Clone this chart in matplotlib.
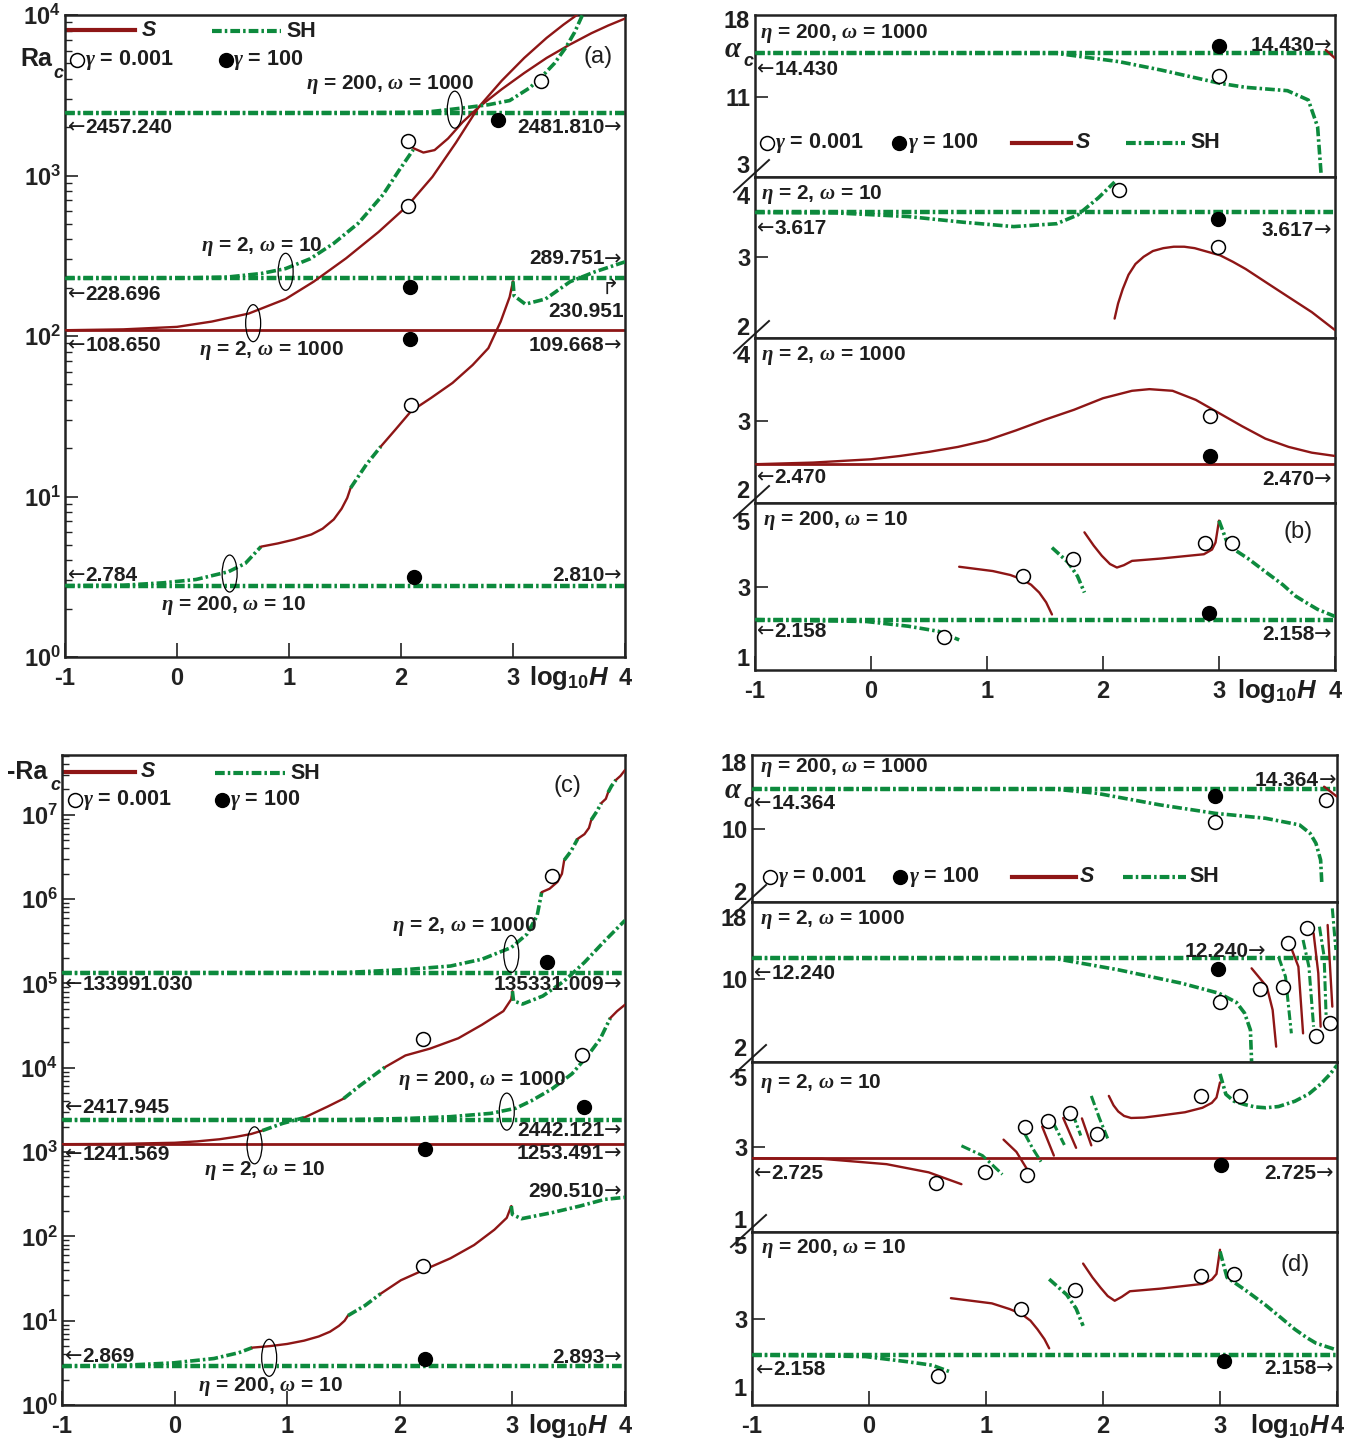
import matplotlib
matplotlib.use('Agg')
import matplotlib.pyplot as plt
import matplotlib.transforms as mtransforms
from matplotlib.patches import Ellipse
from matplotlib.lines import Line2D
from matplotlib.ticker import LogLocator, NullFormatter

# ------------------------------------------------------------------ DATA
X_TICKS = [-1, 0, 1, 2, 3, 4]
X_TICK_LABELS = ['-1', '0', '1', '2', '3', '4']

# ---- panel (a): Ra_c (log) ------------------------------------------
a_SH_flat = [2457.240, 228.696, 2.784]
a_S_flat = [108.650]
# eta=2, omega=1000 (S)
a_e2w1000_S_x = [-1, -0.48, 0, 0.31, 0.64, 0.97, 1.22, 1.51, 1.8, 2.06, 2.28, 2.49, 2.69, 2.9, 3.1, 3.3, 3.45, 3.57]
a_e2w1000_S_y = [108.65, 110, 114, 123, 138, 170, 218, 305, 445, 650, 980, 1600, 2650, 3900, 5400, 7200, 8700, 10000]
# eta=2, omega=10 (SH then S)
a_e2w10_SH_x = [-1, 0, 0.45, 0.75, 0.97, 1.19, 1.4, 1.62, 1.84, 1.98, 2.11]
a_e2w10_SH_y = [228.7, 229.5, 233, 245, 263, 303, 378, 505, 760, 1070, 1450]
a_e2w10_S_x = [2.11, 2.2, 2.3, 2.42, 2.55, 2.69, 2.9, 3.1, 3.3, 3.5, 3.7, 3.85, 4.0]
a_e2w10_S_y = [1480, 1390, 1440, 1700, 2150, 2650, 3450, 4350, 5400, 6500, 7700, 8600, 9500]
# eta=200, omega=1000 (SH)
a_e200w1000_SH_x = [-1, 1.5, 2.0, 2.24, 2.42, 2.6, 2.78, 2.97, 3.15, 3.26, 3.37, 3.47, 3.55, 3.62]
a_e200w1000_SH_y = [2457, 2460, 2470, 2490, 2570, 2660, 2760, 2930, 3520, 4150, 5000, 6250, 7800, 10000]
# eta=200, omega=10 (alternating SH / S)
a_e200w10_SH1_x = [-1, -0.48, -0.12, 0.17, 0.46, 0.61, 0.75]
a_e200w10_SH1_y = [2.784, 2.8, 2.9, 3.04, 3.4, 3.83, 4.87]
a_e200w10_S1_x = [0.75, 0.9, 1.05, 1.2, 1.3, 1.4, 1.47, 1.52, 1.55]
a_e200w10_S1_y = [4.87, 5.1, 5.4, 5.8, 6.3, 7.2, 8.4, 9.8, 11.3]
a_e200w10_SH2_x = [1.55, 1.69, 1.82]
a_e200w10_SH2_y = [11.3, 15.8, 20.5]
a_e200w10_S2_x = [1.82, 1.95, 2.09, 2.27, 2.46, 2.64, 2.78, 2.89, 2.97, 3.0]
a_e200w10_S2_y = [20.5, 26.1, 34, 41.2, 51, 66, 84, 123, 175, 219]
a_e200w10_SH3_x = [3.0, 3.01, 3.11, 3.29, 3.51, 3.73, 4.0]
a_e200w10_SH3_y = [219, 178, 158, 170, 218, 251, 289.751]
a_open_x = [2.06, 2.06, 3.25, 2.09]
a_open_y = [1630, 650, 3900, 37.4]
a_fill_x = [2.87, 2.08, 2.08, 2.12]
a_fill_y = [2220, 203, 96, 3.15]

# ---- panel (c): -Ra_c (log) -----------------------------------------
c_SH_flat = [133991.030, 2417.945, 2.869]
c_S_flat = [1241.569]
c_e2w1000_SH1_x = [-1, 1.5, 2.08, 2.45, 2.73, 2.99, 3.13, 3.22, 3.26]
c_e2w1000_SH1_y = [1.34e5, 1.345e5, 1.47e5, 1.61e5, 1.94e5, 2.67e5, 3.85e5, 6.4e5, 1.21e6]
c_e2w1000_S1_x = [3.26, 3.33, 3.40, 3.44, 3.46]
c_e2w1000_S1_y = [1.21e6, 1.33e6, 1.6e6, 2.0e6, 2.9e6]
c_e2w1000_SH2_x = [3.46, 3.52, 3.58]
c_e2w1000_SH2_y = [2.9e6, 3.7e6, 5.2e6]
c_e2w1000_S2_x = [3.58, 3.64, 3.68, 3.70]
c_e2w1000_S2_y = [5.2e6, 5.9e6, 7.0e6, 8.7e6]
c_e2w1000_SH3_x = [3.70, 3.75, 3.79]
c_e2w1000_SH3_y = [8.7e6, 1.1e7, 1.38e7]
c_e2w1000_S3_x = [3.79, 3.83, 3.85]
c_e2w1000_S3_y = [1.38e7, 1.55e7, 1.85e7]
c_e2w1000_SH4_x = [3.85, 3.88, 3.92]
c_e2w1000_SH4_y = [1.85e7, 2.2e7, 2.6e7]
c_e2w1000_S4_x = [3.92, 3.96, 4.0]
c_e2w1000_S4_y = [2.6e7, 2.9e7, 3.4e7]
c_e2w10_S1_x = [-1, -0.5, 0, 0.2, 0.4, 0.55, 0.68, 0.78]
c_e2w10_S1_y = [1241.6, 1250, 1290, 1340, 1420, 1520, 1640, 1800]
c_e2w10_SH1_x = [0.78, 0.96, 1.15]
c_e2w10_SH1_y = [1800, 2190, 2560]
c_e2w10_S2_x = [1.15, 1.36, 1.5]
c_e2w10_S2_y = [2560, 3470, 4300]
c_e2w10_SH2_x = [1.5, 1.65, 1.87]
c_e2w10_SH2_y = [4300, 6200, 10200]
c_e2w10_S3_x = [1.87, 2.05, 2.27, 2.52, 2.73, 2.92, 2.99, 3.0]
c_e2w10_S3_y = [10200, 14000, 16900, 22400, 32400, 47000, 65000, 81000]
c_e2w10_SH3_x = [3.0, 3.01, 3.09, 3.27, 3.46, 3.64, 3.82, 4.0]
c_e2w10_SH3_y = [81000, 62000, 57000, 71000, 107000, 178000, 320000, 560000]
c_e200w1000_SH_x = [-1, 1.5, 2.08, 2.45, 2.81, 3.03, 3.17, 3.35, 3.53, 3.67, 3.78, 3.87]
c_e200w1000_SH_y = [2418, 2420, 2510, 2630, 2880, 3310, 4070, 5600, 8500, 14000, 22000, 39000]
c_e200w1000_S_x = [3.87, 3.93, 4.0]
c_e200w1000_S_y = [39000, 47000, 56000]
c_e200w10_SH1_x = [-1, -0.45, -0.01, 0.35, 0.57, 0.69]
c_e200w10_SH1_y = [2.869, 2.96, 3.16, 3.56, 4.17, 4.79]
c_e200w10_S1_x = [0.69, 0.85, 1.0, 1.15, 1.28, 1.38, 1.46, 1.51, 1.54]
c_e200w10_S1_y = [4.79, 5.0, 5.3, 5.8, 6.5, 7.4, 8.7, 10.0, 11.5]
c_e200w10_SH2_x = [1.54, 1.69, 1.83]
c_e200w10_SH2_y = [11.5, 15.1, 20.9]
c_e200w10_S2_x = [1.83, 2.01, 2.21, 2.45, 2.66, 2.84, 2.95, 2.99]
c_e200w10_S2_y = [20.9, 30.2, 39.8, 55, 79, 120, 166, 229]
c_e200w10_SH3_x = [2.99, 3.0, 3.08, 3.35, 3.6, 3.82, 4.0]
c_e200w10_SH3_y = [229, 182, 162, 191, 229, 275, 290.510]
c_open_x = [3.35, 2.21, 3.62, 2.21]
c_open_y = [1.9e6, 2.2e4, 1.4e4, 45]
c_fill_x = [3.31, 3.64, 2.22, 2.22]
c_fill_y = [1.8e5, 3400, 1100, 3.5]

# ---- panel (b): alpha_c, four sub-panels ------------------------------
b1_SH_flat = 14.430
b1_SH_x = [-1, 1.6, 2.14, 2.5, 3.01, 3.23, 3.59, 3.77, 3.85, 3.88]
b1_SH_y = [14.43, 14.40, 13.75, 13.10, 12.06, 11.75, 11.49, 10.76, 8.68, 5.0]
b1_S_x = [3.92, 4.0]
b1_S_y = [14.66, 14.02]
b1_open_x, b1_open_y = [3.0], [12.64]
b1_fill_x, b1_fill_y = [3.0], [14.95]

b2_SH_flat = 3.617
b2_SH_x = [-1, -0.3, 0.32, 0.8, 1.23, 1.6, 1.78, 1.96, 2.1]
b2_SH_y = [3.617, 3.61, 3.56, 3.48, 3.42, 3.46, 3.58, 3.82, 4.04]
b2_S_x = [2.1, 2.13, 2.17, 2.22, 2.28, 2.35, 2.43, 2.52, 2.61, 2.7, 2.79, 2.9, 3.01, 3.12, 3.23, 3.4, 3.59, 3.8, 4.0]
b2_S_y = [2.14, 2.35, 2.55, 2.75, 2.90, 3.0, 3.08, 3.12, 3.14, 3.14, 3.12, 3.07, 3.02, 2.93, 2.83, 2.65, 2.45, 2.23, 1.98]
b2_open_x, b2_open_y = [2.14, 2.99], [3.93, 3.13]
b2_fill_x, b2_fill_y = [2.99], [3.53]

b3_S_flat = 2.470
b3_S_x = [-1, -0.5, 0, 0.25, 0.5, 0.75, 1.0, 1.25, 1.5, 1.75, 2.0, 2.25, 2.4, 2.6, 2.8, 3.0, 3.2, 3.4, 3.6, 3.8, 4.0]
b3_S_y = [2.47, 2.49, 2.53, 2.57, 2.62, 2.68, 2.76, 2.88, 3.01, 3.13, 3.27, 3.36, 3.38, 3.36, 3.25, 3.09, 2.93, 2.78, 2.68, 2.61, 2.57]
b3_open_x, b3_open_y = [2.92], [3.06]
b3_fill_x, b3_fill_y = [2.92], [2.57]

b4_SH_flat = 2.158
b4_SH1_x = [-1, -0.04, 0.32, 0.58, 0.76]
b4_SH1_y = [2.158, 2.11, 1.99, 1.86, 1.64]
b4_S1_x = [0.76, 1.05, 1.20, 1.30, 1.38, 1.45, 1.51, 1.56]
b4_S1_y = [3.51, 3.40, 3.30, 3.19, 3.05, 2.85, 2.60, 2.29]
b4_SH2_x = [1.56, 1.70, 1.78, 1.84]
b4_SH2_y = [4.0, 3.62, 3.27, 2.85]
b4_S2_x = [1.84, 1.92, 1.99, 2.06, 2.12, 2.18, 2.25, 2.5, 2.87, 2.94, 2.97, 3.0]
b4_S2_y = [4.39, 4.05, 3.79, 3.58, 3.49, 3.55, 3.66, 3.72, 3.83, 3.95, 4.13, 4.69]
b4_SH3_x = [3.0, 3.08, 3.25, 3.41, 3.55, 3.66, 3.77, 3.85, 4.0]
b4_SH3_y = [4.69, 4.05, 3.72, 3.36, 3.05, 2.76, 2.56, 2.42, 2.24]
b4_open_x = [0.63, 1.31, 1.74, 2.88, 3.11]
b4_open_y = [1.71, 3.27, 3.70, 4.12, 4.12]
b4_fill_x, b4_fill_y = [2.91], [2.33]

# ---- panel (d): alpha_c, four sub-panels ------------------------------
d1_SH_flat = 14.364
d1_SH_x = [-1, 1.59, 1.95, 2.49, 2.96, 3.39, 3.68, 3.77, 3.82, 3.86, 3.87]
d1_SH_y = [14.364, 14.36, 13.9, 12.63, 11.71, 11.17, 10.44, 9.52, 8.43, 6.6, 4.05]
d1_S_x = [3.89, 4.0]
d1_S_y = [14.63, 13.54]
d1_open_x, d1_open_y = [2.96, 3.91], [10.8, 13.17]
d1_fill_x, d1_fill_y = [2.96], [13.65]

d2_SH_flat = 12.240
d2_SH_x = [-1, 1.59, 2.13, 2.67, 2.99, 3.14, 3.21, 3.26, 3.27]
d2_SH_y = [12.24, 12.2, 10.97, 9.50, 8.40, 7.40, 6.22, 4.37, 0.86]
d2_S_segments_x = [[3.27, 3.40, 3.45, 3.48], [3.61, 3.67, 3.71], [3.80, 3.84, 3.86], [3.92, 3.96]]
d2_S_segments_y = [[11.13, 9.12, 6.56, 2.54], [13.32, 11.31, 4.0], [14.97, 10.6, 4.73], [15.88, 6.93]]
d2_SH_segments_x = [[3.50, 3.56, 3.58, 3.61], [3.71, 3.76, 3.80], [3.85, 3.89, 3.91], [3.96, 3.99]]
d2_SH_segments_y = [[12.40, 10.21, 7.66, 4.0], [14.24, 11.3, 4.73], [15.7, 12.4, 4.73], [17.7, 13.14]]
d2_open_x = [3.0, 3.34, 3.54, 3.58, 3.74, 3.82, 3.94]
d2_open_y = [7.47, 8.83, 9.05, 13.87, 15.52, 3.75, 5.1]
d2_fill_x, d2_fill_y = [2.98], [11.06]

d3_S_flat = 2.725
d3_S1_x = [-1, -0.4, 0.15, 0.51, 0.79]
d3_S1_y = [2.725, 2.71, 2.58, 2.38, 2.09]
d3_S_segments_x = [[1.15, 1.26, 1.35], [1.48, 1.58], [1.66, 1.77], [1.82, 1.90]]
d3_S_segments_y = [[3.18, 2.88, 2.46], [3.50, 2.79], [3.71, 2.98], [3.70, 3.04]]
d3_SH_segments_x = [[0.79, 0.97, 1.14], [1.33, 1.40, 1.47], [1.57, 1.67], [1.74, 1.81], [1.90, 1.97, 2.04]]
d3_SH_segments_y = [[3.03, 2.79, 2.33], [3.33, 2.96, 2.64], [3.62, 3.05], [3.82, 3.28], [4.25, 3.7, 3.21]]
d3_S2_x = [2.05, 2.09, 2.13, 2.18, 2.24, 2.35, 2.49, 2.7, 2.85, 2.93, 2.97, 3.0]
d3_S2_y = [4.25, 4.02, 3.87, 3.76, 3.71, 3.72, 3.77, 3.85, 3.96, 4.08, 4.21, 4.58]
d3_SH2_x = [3.0, 3.05, 3.12, 3.21, 3.3, 3.39, 3.5, 3.64, 3.76, 3.86, 3.94, 4.0]
d3_SH2_y = [4.79, 4.29, 4.12, 4.04, 3.98, 3.96, 3.99, 4.12, 4.30, 4.54, 4.78, 5.0]
d3_open_x = [0.57, 0.99, 1.35, 1.33, 1.53, 1.72, 1.95, 2.84, 3.17]
d3_open_y = [2.13, 2.38, 2.31, 3.5, 3.64, 3.83, 3.31, 4.25, 4.25]
d3_fill_x, d3_fill_y = [3.01], [2.56]

d4_SH_flat = 2.158
d4_SH1_x = [-1, -0.03, 0.33, 0.54, 0.70]
d4_SH1_y = [2.158, 2.12, 2.0, 1.92, 1.76]
d4_S1_x = [0.70, 1.05, 1.20, 1.30, 1.38, 1.44, 1.50, 1.54]
d4_S1_y = [3.47, 3.35, 3.22, 3.11, 2.95, 2.75, 2.52, 2.31]
d4_SH2_x = [1.54, 1.69, 1.77, 1.83]
d4_SH2_y = [3.91, 3.55, 3.23, 2.83]
d4_S2_x = [1.83, 1.91, 1.98, 2.04, 2.10, 2.16, 2.23, 2.49, 2.85, 2.93, 2.97, 3.0]
d4_S2_y = [4.27, 3.95, 3.71, 3.52, 3.41, 3.50, 3.63, 3.69, 3.80, 3.90, 4.03, 4.59]
d4_SH3_x = [3.0, 3.06, 3.22, 3.39, 3.52, 3.64, 3.74, 3.82, 4.0]
d4_SH3_y = [4.55, 3.95, 3.65, 3.31, 3.02, 2.75, 2.56, 2.43, 2.27]
d4_open_x = [0.59, 1.30, 1.76, 2.84, 3.12]
d4_open_y = [1.68, 3.22, 3.67, 3.99, 4.04]
d4_fill_x, d4_fill_y = [3.03], [2.02]

# ------------------------------------------------------------------ STYLE
plt.rcParams.update({
    'font.family': ['Liberation Sans', 'DejaVu Sans'],
    'font.weight': 'bold',
    'mathtext.fontset': 'custom',
    'mathtext.rm': 'Liberation Sans:bold',
    'mathtext.bf': 'Liberation Sans:bold',
    'mathtext.it': 'Liberation Serif:italic',
    'mathtext.sf': 'Liberation Sans:italic:bold',
    'lines.scale_dashes': False,
    'axes.linewidth': 1.8,
    'axes.edgecolor': '#222222',
    'xtick.color': '#222222',
    'ytick.color': '#222222',
})
RED = '#8e1616'
GREEN = '#0d8a3d'
INK = '#1e1e1e'
DASH = (7, 2.2, 1.8, 2.2)
TICK_FS = 17
ANN_FS = 15
LEG_FS = 15.5
ARROW_W = 12.5  # points

W, H = 1357, 1438
fig = plt.figure(figsize=(W / 100, H / 100), dpi=100)


def add_ax(l, t, r, b):
    return fig.add_axes([l / W, 1 - b / H, (r - l) / W, (b - t) / H])


def S(ax, x, y, lw=1.7):
    ax.plot(x, y, color=RED, lw=lw, solid_capstyle='round', solid_joinstyle='round', zorder=3)


def SH(ax, x, y, lw=2.6):
    ax.plot(x, y, color=GREEN, lw=lw, dashes=DASH, dash_capstyle='butt', zorder=3)


def hSH(ax, v):
    ax.axhline(v, color=GREEN, lw=3.2, dashes=DASH, zorder=2)


def hS(ax, v):
    ax.axhline(v, color=RED, lw=2.0, zorder=2)


def opens(ax, x, y):
    ax.plot(x, y, 'o', ls='none', ms=10, mfc='white', mec='black', mew=1.1, zorder=5)


def fills(ax, x, y):
    ax.plot(x, y, 'o', ls='none', ms=10, mfc='black', mec='black', zorder=5)


def ellipse(ax, x, y):
    tr = fig.dpi_scale_trans + mtransforms.ScaledTranslation(x, y, ax.transData)
    ax.add_patch(Ellipse((0, 0), 0.15, 0.37, transform=tr, fill=False,
                         ec='black', lw=0.9, zorder=6))


def lab(ax, x, y, s, ha='left', size=ANN_FS, weight='bold', **kw):
    ax.text(x, y, s, ha=ha, va='center', fontsize=size, fontweight=weight,
            color=INK, zorder=7, **kw)


def arrow_lab(ax, x, y, num, side='left'):
    if side == 'left':
        ax.text(x, y, '←', ha='left', va='center', fontsize=ANN_FS, color=INK,
                family=['DejaVu Sans'], fontweight='normal', zorder=7)
        ax.annotate(num, xy=(x, y), xytext=(ARROW_W, 0), textcoords='offset points',
                    ha='left', va='center', fontsize=ANN_FS, color=INK, zorder=7)
    else:
        ax.text(x, y, '→', ha='right', va='center', fontsize=ANN_FS, color=INK,
                family=['DejaVu Sans'], fontweight='normal', zorder=7)
        ax.annotate(num, xy=(x, y), xytext=(-ARROW_W, 0), textcoords='offset points',
                    ha='right', va='center', fontsize=ANN_FS, color=INK, zorder=7)


def xaxis_bottom(ax, xpos_label=3.5):
    ax.set_xlim(-1, 4)
    ax.set_xticks(X_TICKS, X_TICK_LABELS)
    ax.tick_params(axis='x', direction='in', length=10, width=1.2, top=False,
                   labelsize=TICK_FS, pad=7)
    ax.annotate(r'log$_{\mathbf{10}}\mathsf{H}$', xy=(xpos_label, 0),
                xycoords=('data', 'axes fraction'), xytext=(0, -5),
                textcoords='offset points', ha='center', va='top',
                fontsize=18.5, color=INK)


def log_axis(ax, ymax, decades):
    ax.set_yscale('log')
    ax.set_ylim(1, ymax)
    ax.set_xlim(-1, 4)
    ax.set_yticks([10 ** k for k in decades],
                  [r'$\mathbf{10^{%d}}$' % k for k in decades])
    ax.yaxis.set_minor_locator(LogLocator(base=10, subs=range(2, 10), numticks=30))
    ax.yaxis.set_minor_formatter(NullFormatter())
    ax.tick_params(axis='y', which='major', direction='in', length=9, width=1.2,
                   right=False, labelsize=TICK_FS, pad=3)
    ax.tick_params(axis='y', which='minor', direction='in', length=5, width=1.0,
                   right=False)
    xaxis_bottom(ax)


def legend_block(ax, pos):
    (sx0, sx1, sy, stx), (hx0, hx1, hy, htx), (ox, oy, otx), (fx, fy, ftx) = pos
    T = ax.transAxes
    ax.plot([sx0, sx1], [sy, sy], transform=T, color=RED, lw=3.0, clip_on=False)
    ax.text(stx, sy, 'S', transform=T, fontsize=LEG_FS, style='italic',
            va='center', color=INK)
    ax.plot([hx0, hx1], [hy, hy], transform=T, color=GREEN, lw=3.0, dashes=DASH,
            clip_on=False)
    ax.text(htx, hy, 'SH', transform=T, fontsize=LEG_FS, va='center', color=INK)
    ax.plot([ox], [oy], 'o', transform=T, ms=10, mfc='white', mec='black', mew=1.1)
    ax.text(otx, oy, r'$\gamma$ = 0.001', transform=T, fontsize=LEG_FS,
            va='center', color=INK)
    ax.plot([fx], [fy], 'o', transform=T, ms=10, mfc='black', mec='black')
    ax.text(ftx, fy, r'$\gamma$ = 100', transform=T, fontsize=LEG_FS,
            va='center', color=INK)


def sub_axis(ax, ylo, yhi, ytick, edge_labels):
    ax.set_xlim(-1, 4)
    ax.set_ylim(ylo, yhi)
    ax.set_yticks([ytick], [str(ytick)])
    ax.tick_params(axis='y', direction='in', length=9, width=1.2, right=False,
                   labelsize=TICK_FS, pad=3)
    ax.set_xticks([])
    for yf, s in edge_labels:
        ax.text(-0.009, yf, s, transform=ax.transAxes, ha='right', va='center',
                fontsize=TICK_FS, color=INK)


def break_mark(xp, yp):
    fig.add_artist(Line2D([(xp - 21) / W, (xp + 14) / W],
                          [1 - (yp + 15) / H, 1 - (yp - 17) / H],
                          transform=fig.transFigure, color=INK, lw=1.4))


def panel_tag(ax, x, y, s):
    ax.text(x, y, s, ha='center', va='center', fontsize=17,
            fontweight='normal', color=INK)


# ------------------------------------------------------------------ PANEL (a)
axA = add_ax(65, 15, 625, 657)
log_axis(axA, 1e4, [0, 1, 2, 3, 4])
for v in a_SH_flat:
    hSH(axA, v)
for v in a_S_flat:
    hS(axA, v)
S(axA, a_e2w1000_S_x, a_e2w1000_S_y)
SH(axA, a_e2w10_SH_x, a_e2w10_SH_y)
S(axA, a_e2w10_S_x, a_e2w10_S_y)
SH(axA, a_e200w1000_SH_x, a_e200w1000_SH_y)
SH(axA, a_e200w10_SH1_x, a_e200w10_SH1_y)
S(axA, a_e200w10_S1_x, a_e200w10_S1_y)
SH(axA, a_e200w10_SH2_x, a_e200w10_SH2_y)
S(axA, a_e200w10_S2_x, a_e200w10_S2_y)
SH(axA, a_e200w10_SH3_x, a_e200w10_SH3_y)
opens(axA, a_open_x, a_open_y)
fills(axA, a_fill_x, a_fill_y)
for ex, ey in [(2.48, 10 ** 3.41), (0.97, 10 ** 2.40), (0.68, 10 ** 2.08), (0.47, 10 ** 0.52)]:
    ellipse(axA, ex, ey)
arrow_lab(axA, -0.97, 10 ** 3.30, '2457.240', 'left')
arrow_lab(axA, 3.97, 10 ** 3.30, '2481.810', 'right')
arrow_lab(axA, -0.97, 10 ** 2.26, '228.696', 'left')
arrow_lab(axA, 3.97, 10 ** 2.48, '289.751', 'right')
lab(axA, 3.87, 10 ** 2.30, '↱', ha='center', size=15, weight='normal', family=['DejaVu Sans'])
lab(axA, 3.99, 10 ** 2.15, '230.951', ha='right')
arrow_lab(axA, -0.97, 10 ** 1.94, '108.650', 'left')
arrow_lab(axA, 3.97, 10 ** 1.94, '109.668', 'right')
arrow_lab(axA, -0.97, 10 ** 0.51, '2.784', 'left')
arrow_lab(axA, 3.97, 10 ** 0.51, '2.810', 'right')
lab(axA, 1.9, 10 ** 3.567, r'$\eta$ = 200, $\omega$ = 1000', ha='center')
lab(axA, 0.76, 10 ** 2.556, r'$\eta$ = 2, $\omega$ = 10', ha='center')
lab(axA, 0.84, 10 ** 1.91, r'$\eta$ = 2, $\omega$ = 1000', ha='center')
lab(axA, 0.5, 10 ** 0.32, r'$\eta$ = 200, $\omega$ = 10', ha='center')
panel_tag(axA, 3.76, 10 ** 3.74, '(a)')
legend_block(axA, ((0.005, 0.125, 0.976, 0.137), (0.262, 0.385, 0.975, 0.395),
                   (0.022, 0.930, 0.035), (0.287, 0.930, 0.300)))
fig.text(20 / W, 1 - 59 / H, 'Ra', fontsize=18, va='center', ha='left', color=INK)
fig.text(53 / W, 1 - 73 / H, 'c', fontsize=13, style='italic', va='center', ha='left', color=INK)

# ------------------------------------------------------------------ PANEL (c)
axC = add_ax(62, 755, 625, 1405)
log_axis(axC, 10 ** 7.71, [0, 1, 2, 3, 4, 5, 6, 7])
for v in c_SH_flat:
    hSH(axC, v)
for v in c_S_flat:
    hS(axC, v)
SH(axC, c_e2w1000_SH1_x, c_e2w1000_SH1_y)
S(axC, c_e2w1000_S1_x, c_e2w1000_S1_y)
SH(axC, c_e2w1000_SH2_x, c_e2w1000_SH2_y)
S(axC, c_e2w1000_S2_x, c_e2w1000_S2_y)
SH(axC, c_e2w1000_SH3_x, c_e2w1000_SH3_y)
S(axC, c_e2w1000_S3_x, c_e2w1000_S3_y)
SH(axC, c_e2w1000_SH4_x, c_e2w1000_SH4_y)
S(axC, c_e2w1000_S4_x, c_e2w1000_S4_y)
S(axC, c_e2w10_S1_x, c_e2w10_S1_y)
SH(axC, c_e2w10_SH1_x, c_e2w10_SH1_y)
S(axC, c_e2w10_S2_x, c_e2w10_S2_y)
SH(axC, c_e2w10_SH2_x, c_e2w10_SH2_y)
S(axC, c_e2w10_S3_x, c_e2w10_S3_y)
SH(axC, c_e2w10_SH3_x, c_e2w10_SH3_y)
SH(axC, c_e200w1000_SH_x, c_e200w1000_SH_y)
S(axC, c_e200w1000_S_x, c_e200w1000_S_y)
SH(axC, c_e200w10_SH1_x, c_e200w10_SH1_y)
S(axC, c_e200w10_S1_x, c_e200w10_S1_y)
SH(axC, c_e200w10_SH2_x, c_e200w10_SH2_y)
S(axC, c_e200w10_S2_x, c_e200w10_S2_y)
SH(axC, c_e200w10_SH3_x, c_e200w10_SH3_y)
opens(axC, c_open_x, c_open_y)
fills(axC, c_fill_x, c_fill_y)
for ex, ey in [(2.99, 10 ** 5.35), (2.95, 10 ** 3.48), (0.71, 10 ** 3.08), (0.84, 10 ** 0.56)]:
    ellipse(axC, ex, ey)
arrow_lab(axC, -0.97, 10 ** 4.99, '133991.030', 'left')
arrow_lab(axC, 3.97, 10 ** 4.99, '135331.009', 'right')
arrow_lab(axC, -0.97, 10 ** 3.53, '2417.945', 'left')
arrow_lab(axC, 3.97, 10 ** 3.26, '2442.121', 'right')
arrow_lab(axC, -0.97, 10 ** 2.97, '1241.569', 'left')
arrow_lab(axC, 3.97, 10 ** 2.98, '1253.491', 'right')
arrow_lab(axC, 3.97, 10 ** 2.53, '290.510', 'right')
arrow_lab(axC, -0.97, 10 ** 0.58, '2.869', 'left')
arrow_lab(axC, 3.97, 10 ** 0.56, '2.893', 'right')
lab(axC, 2.57, 10 ** 5.67, r'$\eta$ = 2, $\omega$ = 1000', ha='center')
lab(axC, 2.73, 10 ** 3.85, r'$\eta$ = 200, $\omega$ = 1000', ha='center')
lab(axC, 0.8, 10 ** 2.78, r'$\eta$ = 2, $\omega$ = 10', ha='center')
lab(axC, 0.85, 10 ** 0.22, r'$\eta$ = 200, $\omega$ = 10', ha='center')
panel_tag(axC, 3.49, 10 ** 7.34, '(c)')
legend_block(axC, ((0.005, 0.13, 0.974, 0.14), (0.272, 0.396, 0.972, 0.405),
                   (0.023, 0.931, 0.037), (0.284, 0.931, 0.298)))
fig.text(7 / W, 1 - 772 / H, '-Ra', fontsize=18, va='center', ha='left', color=INK)
fig.text(50 / W, 1 - 786 / H, 'c', fontsize=13, style='italic', va='center', ha='left', color=INK)

# ------------------------------------------------------------------ PANEL (b)
B_ROWS = [(15, 177), (177, 338), (338, 503), (503, 670)]
axB = [add_ax(755, t, 1335, b) for t, b in B_ROWS]
sub_axis(axB[0], 4.76, 17.39, 11, [(0.957, '18'), (0.062, '3')])
sub_axis(axB[1], 1.87, 4.11, 3, [(0.87, '4'), (0.062, '2')])
sub_axis(axB[2], 2.0, 4.0, 3, [(0.885, '4'), (0.067, '2')])
sub_axis(axB[3], 0.87, 5.14, 3, [(0.88, '5'), (0.06, '1')])
xaxis_bottom(axB[3], 3.5)

b = axB[0]
hSH(b, b1_SH_flat)
SH(b, b1_SH_x, b1_SH_y)
S(b, b1_S_x, b1_S_y)
opens(b, b1_open_x, b1_open_y)
fills(b, b1_fill_x, b1_fill_y)
lab(b, -0.96, 15.96, r'$\eta$ = 200, $\omega$ = 1000')
arrow_lab(b, -0.98, 13.16, '14.430', 'left')
arrow_lab(b, 3.97, 15.05, '14.430', 'right')
legend_block(b, ((0.443, 0.545, 0.21, 0.553), (0.64, 0.742, 0.21, 0.75),
                 (0.021, 0.21, 0.034), (0.249, 0.21, 0.264)))

b = axB[1]
hSH(b, b2_SH_flat)
SH(b, b2_SH_x, b2_SH_y)
S(b, b2_S_x, b2_S_y)
opens(b, b2_open_x, b2_open_y)
fills(b, b2_fill_x, b2_fill_y)
lab(b, -0.95, 3.86, r'$\eta$ = 2, $\omega$ = 10')
arrow_lab(b, -0.98, 3.39, '3.617', 'left')
arrow_lab(b, 3.97, 3.37, '3.617', 'right')

b = axB[2]
hS(b, b3_S_flat)
S(b, b3_S_x, b3_S_y)
opens(b, b3_open_x, b3_open_y)
fills(b, b3_fill_x, b3_fill_y)
lab(b, -0.95, 3.79, r'$\eta$ = 2, $\omega$ = 1000')
arrow_lab(b, -0.98, 2.31, '2.470', 'left')
arrow_lab(b, 3.97, 2.29, '2.470', 'right')

b = axB[3]
hSH(b, b4_SH_flat)
SH(b, b4_SH1_x, b4_SH1_y)
S(b, b4_S1_x, b4_S1_y)
SH(b, b4_SH2_x, b4_SH2_y)
S(b, b4_S2_x, b4_S2_y)
SH(b, b4_SH3_x, b4_SH3_y)
opens(b, b4_open_x, b4_open_y)
fills(b, b4_fill_x, b4_fill_y)
lab(b, -0.93, 4.69, r'$\eta$ = 200, $\omega$ = 10')
arrow_lab(b, -0.98, 1.86, '2.158', 'left')
arrow_lab(b, 3.97, 1.77, '2.158', 'right')
panel_tag(b, 3.68, 4.39, '(b)')

for t, bt in B_ROWS[1:]:
    break_mark(755, t)
fig.text(724 / W, 1 - 49 / H, r'$\alpha$', fontsize=21, va='center', ha='left', color=INK)
fig.text(743 / W, 1 - 62 / H, 'c', fontsize=13, style='italic', va='center', ha='left', color=INK)

# ------------------------------------------------------------------ PANEL (d)
D_ROWS = [(755, 902), (902, 1062), (1062, 1232), (1232, 1405)]
axD = [add_ax(752, t, 1337, b) for t, b in D_ROWS]
sub_axis(axD[0], 2.0, 18.1, 10, [(0.935, '18'), (0.06, '2')])
sub_axis(axD[1], 0.86, 18.4, 10, [(0.89, '18'), (0.075, '2')])
sub_axis(axD[2], 0.92, 5.08, 3, [(0.9, '5'), (0.06, '1')])
sub_axis(axD[3], 1.0, 5.0, 3, [(0.91, '5'), (0.09, '1')])
xaxis_bottom(axD[3], 3.6)

d = axD[0]
hSH(d, d1_SH_flat)
SH(d, d1_SH_x, d1_SH_y)
S(d, d1_S_x, d1_S_y)
opens(d, d1_open_x, d1_open_y)
fills(d, d1_fill_x, d1_fill_y)
lab(d, -0.93, 16.75, r'$\eta$ = 200, $\omega$ = 1000')
arrow_lab(d, -0.98, 12.81, '14.364', 'left')
arrow_lab(d, 3.99, 15.36, '14.364', 'right')
legend_block(d, ((0.445, 0.553, 0.172, 0.56), (0.634, 0.742, 0.172, 0.748),
                 (0.031, 0.172, 0.045), (0.253, 0.172, 0.268)))

d = axD[1]
hSH(d, d2_SH_flat)
SH(d, d2_SH_x, d2_SH_y)
for xs, ys in zip(d2_S_segments_x, d2_S_segments_y):
    S(d, xs, ys)
for xs, ys in zip(d2_SH_segments_x, d2_SH_segments_y):
    SH(d, xs, ys, lw=2.2)
opens(d, d2_open_x, d2_open_y)
fills(d, d2_fill_x, d2_fill_y)
lab(d, -0.93, 16.49, r'$\eta$ = 2, $\omega$ = 1000')
arrow_lab(d, -0.98, 10.61, '12.240', 'left')
arrow_lab(d, 3.39, 13.0, '12.240', 'right')

d = axD[2]
hS(d, d3_S_flat)
S(d, d3_S1_x, d3_S1_y)
for xs, ys in zip(d3_S_segments_x, d3_S_segments_y):
    S(d, xs, ys)
for xs, ys in zip(d3_SH_segments_x, d3_SH_segments_y):
    SH(d, xs, ys, lw=2.2)
S(d, d3_S2_x, d3_S2_y)
SH(d, d3_SH2_x, d3_SH2_y)
opens(d, d3_open_x, d3_open_y)
fills(d, d3_fill_x, d3_fill_y)
lab(d, -0.93, 4.56, r'$\eta$ = 2, $\omega$ = 10')
arrow_lab(d, -0.98, 2.36, '2.725', 'left')
arrow_lab(d, 3.97, 2.36, '2.725', 'right')

d = axD[3]
hSH(d, d4_SH_flat)
SH(d, d4_SH1_x, d4_SH1_y)
S(d, d4_S1_x, d4_S1_y)
SH(d, d4_SH2_x, d4_SH2_y)
S(d, d4_S2_x, d4_S2_y)
SH(d, d4_SH3_x, d4_SH3_y)
opens(d, d4_open_x, d4_open_y)
fills(d, d4_fill_x, d4_fill_y)
lab(d, -0.92, 4.63, r'$\eta$ = 200, $\omega$ = 10')
arrow_lab(d, -0.97, 1.81, '2.158', 'left')
arrow_lab(d, 3.97, 1.84, '2.158', 'right')
panel_tag(d, 3.64, 4.23, '(d)')

for t, bt in D_ROWS[1:]:
    break_mark(752, t)
fig.text(724 / W, 1 - 790 / H, r'$\alpha$', fontsize=21, va='center', ha='left', color=INK)
fig.text(743 / W, 1 - 803 / H, 'c', fontsize=13, style='italic', va='center', ha='left', color=INK)

fig.savefig('out.png', dpi=100)
